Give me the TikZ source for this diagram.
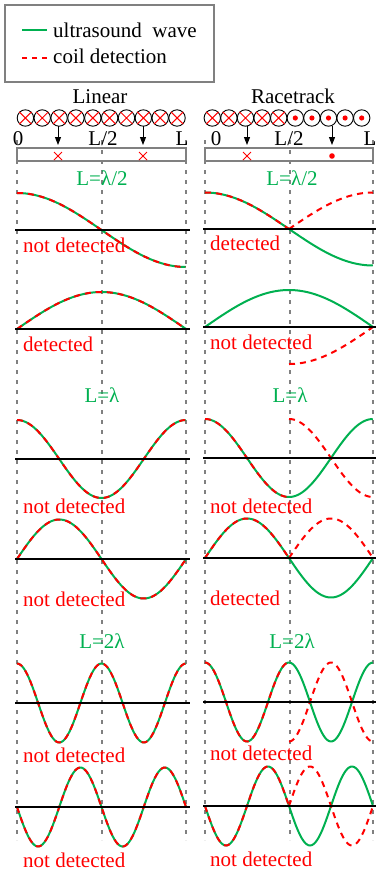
\documentclass[tikz,border=0pt]{standalone}
\usepackage{fontspec}
\setmainfont{Liberation Serif}
\usetikzlibrary{arrows.meta}
\definecolor{wgreen}{RGB}{0,176,80}
\definecolor{dred}{RGB}{255,0,0}
\definecolor{vgray}{RGB}{128,128,128}
\newcommand\wavecurve[7]{\draw[#1] plot[domain=#7, samples=100, smooth] ({#2+#3*\x},{#4-#5*(#6)});}
\begin{document}
\begin{tikzpicture}[x=1pt,y=-1pt,
  txt/.style={inner sep=0pt, anchor=base west, font=\fontsize{21}{25}\selectfont},
  ctxt/.style={inner sep=0pt, anchor=base, font=\fontsize{21}{25}\selectfont},
  gtxt/.style={ctxt, text=wgreen},
  rtxt/.style={txt, text=dred},
  wave/.style={wgreen, line width=2pt},
  coilline/.style={dred, line width=2pt, dash pattern=on 6pt off 5pt},
  axisline/.style={black, line width=2pt},
  guide/.style={vgray, line width=1.6pt, dash pattern=on 4pt off 6pt},
  coilc/.style={circle, draw=black, line width=0.9pt, minimum size=16.4pt, inner sep=0pt},
  xmark/.style={dred, line width=1pt},
  barbox/.style={draw=vgray, line width=1.2pt, minimum width=168pt, minimum height=13pt, inner sep=0pt},
  arr/.style={black, line width=1pt, -{Triangle[length=8pt,width=6pt]}},
  legendbox/.style={draw=vgray, line width=2pt, minimum width=209pt, minimum height=77pt, inner sep=0pt}
]
\useasboundingbox (0,0) rectangle (377,873);

% guides
\foreach \g in {17,102,186,205,290,373} {\draw[guide] (\g,140) -- (\g,840);}

% legend
\node[legendbox] (legend) at (109.5,43.5) {};
\coordinate (lg1) at (22,30); \coordinate (lg2) at (47,30);
\coordinate (lr1) at (22,58); \coordinate (lr2) at (47,58);
\draw[wave] (lg1) -- (lg2);
\draw[dred, line width=2pt, dash pattern=on 5pt off 5pt] (lr1) -- (lr2);
\node[txt] (ltxt1) at (53,37) {ultrasound\ \ wave};
\node[txt] (ltxt2) at (53,63) {coil detection};

% titles
\node[ctxt] (tlin) at (100,103) {Linear};
\node[ctxt] (trace) at (293,103) {Racetrack};

% coils
\foreach \k in {0,...,9} {
  \node[coilc] (cl\k) at ({25.4+16.85*\k},118) {};
  \draw[xmark] (cl\k.north west) -- (cl\k.south east) (cl\k.north east) -- (cl\k.south west);
}
\foreach \k in {0,...,9} {
  \node[coilc] (cr\k) at ({212.3+16.6*\k},118) {};
}
\foreach \k in {0,...,4} {
  \draw[xmark] (cr\k.north west) -- (cr\k.south east) (cr\k.north east) -- (cr\k.south west);
}
\foreach \k in {5,...,9} {
  \fill[dred] (cr\k.center) circle (2.6pt);
}

% position labels
\node[ctxt] (l0) at (18,145) {0};
\node[ctxt] (lh) at (103,145) {L/2};
\node[ctxt] (lL) at (182,145) {L};
\node[ctxt] (r0) at (216,145) {0};
\node[ctxt] (rh) at (289,145) {L/2};
\node[ctxt] (rL) at (370,145) {L};

% bars
\node[barbox, minimum width=169pt] (barL) at (101.5,154.5) {};
\node[barbox] (barR) at (289,154.5) {};

% arrows
\coordinate (a1s) at (58,126); \coordinate (a1e) at (58,145);
\coordinate (a2s) at (143,126); \coordinate (a2e) at (143,145);
\coordinate (a3s) at (247,126); \coordinate (a3e) at (247,145);
\coordinate (a4s) at (332,126); \coordinate (a4e) at (332,145);
\draw[arr] (a1s) -- (a1e);
\draw[arr] (a2s) -- (a2e);
\draw[arr] (a3s) -- (a3e);
\draw[arr] (a4s) -- (a4e);

% marks in bars
\foreach \mx in {58,143,247} {\draw[xmark] (\mx-4,152) -- (\mx+4,160) (\mx+4,152) -- (\mx-4,160);}
\fill[dred] (332,156) circle (2.8pt);

% section labels
\node[gtxt] (s1l) at (102,185) {L=λ/2};
\node[gtxt] (s1r) at (292,185) {L=λ/2};
\node[gtxt] (s2l) at (102,402) {L=λ};
\node[gtxt] (s2r) at (290,402) {L=λ};
\node[gtxt] (s3l) at (102,648) {L=2λ};
\node[gtxt] (s3r) at (292,648) {L=2λ};

% ---------- left (linear) ----------
\wavecurve{wave}{17}{169}{230}{37}{cos(180*\x)}{0:1}
\wavecurve{coilline}{17}{169}{230}{37}{cos(180*\x)}{0:1}
\wavecurve{wave}{17}{169}{329}{37}{sin(180*\x)}{0:1}
\wavecurve{coilline}{17}{169}{329}{37}{sin(180*\x)}{0:1}
\wavecurve{wave}{17}{169}{459}{39}{cos(360*\x)}{0:1}
\wavecurve{coilline}{17}{169}{459}{39}{cos(360*\x)}{0:1}
\wavecurve{wave}{17}{169}{559}{39.5}{sin(360*\x)}{0:1}
\wavecurve{coilline}{17}{169}{559}{39.5}{sin(360*\x)}{0:1}
\wavecurve{wave}{17}{169}{703}{39.5}{cos(720*\x)}{0:1}
\wavecurve{coilline}{17}{169}{703}{39.5}{cos(720*\x)}{0:1}
\wavecurve{wave}{17}{169}{807}{39.5}{-sin(720*\x)}{0:1}
\wavecurve{coilline}{17}{169}{807}{39.5}{-sin(720*\x)}{0:1}

% ---------- right (racetrack) ----------
\wavecurve{wave}{205}{168}{229}{36.5}{cos(180*\x)}{0:1}
\wavecurve{coilline}{205}{168}{229}{36.5}{cos(180*\x)}{0:0.5}
\wavecurve{coilline}{205}{168}{229}{36.5}{-cos(180*\x)}{0.5:1}
\wavecurve{wave}{205}{168}{327}{37}{sin(180*\x)}{0:1}
\wavecurve{coilline}{205}{168}{327}{37}{-sin(180*\x)}{0.5:1}
\wavecurve{wave}{205}{168}{458}{39}{cos(360*\x)}{0:1}
\wavecurve{coilline}{205}{168}{458}{39}{cos(360*\x)}{0:0.5}
\wavecurve{coilline}{205}{168}{458}{39}{-cos(360*\x)}{0.5:1}
\wavecurve{wave}{205}{168}{558}{39.5}{sin(360*\x)}{0:1}
\wavecurve{coilline}{205}{168}{558}{39.5}{sin(360*\x)}{0:0.5}
\wavecurve{coilline}{205}{168}{558}{39.5}{-sin(360*\x)}{0.5:1}
\wavecurve{wave}{205}{168}{702}{39.5}{cos(720*\x)}{0:1}
\wavecurve{coilline}{205}{168}{702}{39.5}{cos(720*\x)}{0:0.5}
\wavecurve{coilline}{205}{168}{702}{39.5}{-cos(720*\x)}{0.5:1}
\wavecurve{wave}{205}{168}{806}{39.5}{-sin(720*\x)}{0:1}
\wavecurve{coilline}{205}{168}{806}{39.5}{-sin(720*\x)}{0:0.5}
\wavecurve{coilline}{205}{168}{806}{39.5}{sin(720*\x)}{0.5:1}

% axes
\foreach \ay in {230,329,459,559,703,807} {\draw[axisline] (15,\ay) -- (190,\ay);}
\foreach \ay in {229,327,458,558,702,806} {\draw[axisline] (203,\ay) -- (376,\ay);}

% detection labels
\node[rtxt] (d1l) at (23,252) {not detected};
\node[rtxt] (d2l) at (23,351) {detected};
\node[rtxt] (d3l) at (23,513) {not detected};
\node[rtxt] (d4l) at (23,606) {not detected};
\node[rtxt] (d5l) at (23,762) {not detected};
\node[rtxt] (d6l) at (23,867) {not detected};
\node[rtxt] (d1r) at (210,250) {detected};
\node[rtxt] (d2r) at (210,349) {not detected};
\node[rtxt] (d3r) at (210,513) {not detected};
\node[rtxt] (d4r) at (210,605) {detected};
\node[rtxt] (d5r) at (210,760) {not detected};
\node[rtxt] (d6r) at (210,866) {not detected};
\end{tikzpicture}
\end{document}
